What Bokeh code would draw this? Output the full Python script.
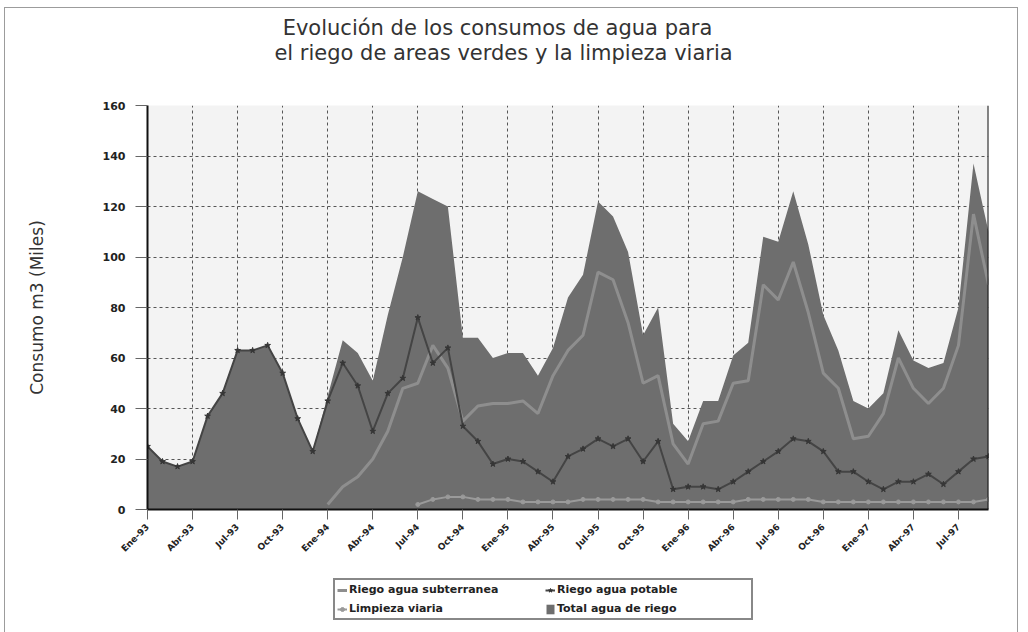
import math
from bokeh.plotting import figure
from bokeh.layouts import column
from bokeh.models import Range1d, FixedTicker, Label, Legend, LegendItem, Span
from bokeh.embed import file_html
from bokeh.resources import INLINE

NaN = float("nan")

# Monthly series, Ene-93 .. Sep-97 (index 0 = Ene-93)
tick_positions = [0, 3, 6, 9, 12, 15, 18, 21, 24, 27, 30, 33, 36, 39, 42, 45, 48, 51, 54]
tick_labels = ["Ene-93", "Abr-93", "Jul-93", "Oct-93", "Ene-94", "Abr-94", "Jul-94", "Oct-94",
               "Ene-95", "Abr-95", "Jul-95", "Oct-95", "Ene-96", "Abr-96", "Jul-96", "Oct-96",
               "Ene-97", "Abr-97", "Jul-97"]

total_riego = [25, 19, 17, 19, 37, 46, 63, 63, 65, 54, 36, 23,
               45, 67, 62, 51, 77, 100, 126, 123, 120, 68, 68, 60,
               62, 62, 53, 64, 84, 93, 122, 116, 102, 69, 80, 34,
               27, 43, 43, 61, 66, 108, 106, 126, 105, 77, 63, 43,
               40, 46, 71, 59, 56, 58, 80, 137, 110]

riego_potable = [25, 19, 17, 19, 37, 46, 63, 63, 65, 54, 36, 23,
                 43, 58, 49, 31, 46, 52, 76, 58, 64, 33, 27, 18,
                 20, 19, 15, 11, 21, 24, 28, 25, 28, 19, 27, 8,
                 9, 9, 8, 11, 15, 19, 23, 28, 27, 23, 15, 15,
                 11, 8, 11, 11, 14, 10, 15, 20, 21]

riego_subterranea = [NaN, NaN, NaN, NaN, NaN, NaN, NaN, NaN, NaN, NaN, NaN, NaN,
                     2, 9, 13, 20, 31, 48, 50, 65, 56, 35, 41, 42,
                     42, 43, 38, 53, 63, 69, 94, 91, 74, 50, 53, 26,
                     18, 34, 35, 50, 51, 89, 83, 98, 78, 54, 48, 28,
                     29, 38, 60, 48, 42, 48, 65, 117, 89]

limpieza_viaria = [NaN, NaN, NaN, NaN, NaN, NaN, NaN, NaN, NaN, NaN, NaN, NaN,
                   NaN, NaN, NaN, NaN, NaN, NaN, 2, 4, 5, 5, 4, 4,
                   4, 3, 3, 3, 3, 4, 4, 4, 4, 4, 3, 3,
                   3, 3, 3, 3, 4, 4, 4, 4, 4, 3, 3, 3,
                   3, 3, 3, 3, 3, 3, 3, 3, 4]

title_lines = ["Evolución de los consumos de agua para",
               "el riego de areas verdes y la limpieza viaria"]

x = list(range(len(total_riego)))

FONT = "DejaVu Sans"
OX, OY = 5, 8             # content origin on the page (inside the outer border)
W = 1012
BL, BR = 142, 29          # side borders shared by all three strips (frames align)
FX0, FX1 = OX + BL, OX + W - BR   # frame left/right in page pixels (147..988)

# ---------- title strip (page y 8..78) ----------
pt = figure(width=W, height=70, output_backend="svg", toolbar_location=None,
            x_range=Range1d(FX0, FX1), y_range=Range1d(78, OY),
            x_axis_location=None, y_axis_location=None,
            min_border_left=BL, min_border_right=BR, min_border_top=0, min_border_bottom=0,
            background_fill_color="white", border_fill_color="white")
pt.outline_line_color = None
pt.grid.visible = False
pt.add_layout(Label(x=497, y=27, text=title_lines[0], text_font=FONT, text_font_size="21px",
                    text_color="#333333", text_align="center", text_baseline="middle"))
pt.add_layout(Label(x=503, y=52, text=title_lines[1], text_font=FONT, text_font_size="21px",
                    text_color="#333333", text_align="center", text_baseline="middle"))

# ---------- main chart (page y 78..570) ----------
p = figure(width=W, height=492, output_backend="svg", toolbar_location=None,
           x_range=Range1d(0, 56), y_range=Range1d(0, 160),
           min_border_left=BL, min_border_right=BR, min_border_top=27, min_border_bottom=61,
           background_fill_color="#f3f3f3", border_fill_color="white")
p.outline_line_color = None

p.grid.grid_line_color = "#555555"
p.grid.grid_line_dash = "3 3"
p.grid.grid_line_width = 1

p.yaxis.ticker = FixedTicker(ticks=[0, 20, 40, 60, 80, 100, 120, 140, 160])
p.xaxis.ticker = FixedTicker(ticks=tick_positions)
p.xaxis.major_label_overrides = {t: l for t, l in zip(tick_positions, tick_labels)}
p.xaxis.major_label_orientation = math.pi / 4
for ax in (p.xaxis, p.yaxis):
    ax.axis_line_color = "#111111"
    ax.axis_line_width = 2
    ax.major_tick_line_color = "#666666"
    ax.major_tick_line_width = 1
    ax.major_tick_in = 0
    ax.minor_tick_line_color = None
    ax.major_label_text_font = FONT
    ax.major_label_text_font_style = "bold"
    ax.major_label_text_color = "#222222"
p.yaxis.major_tick_out = 12
p.yaxis.major_label_standoff = 10
p.yaxis.major_label_text_font_size = "11px"
p.xaxis.major_tick_out = 10
p.xaxis.major_label_standoff = 6
p.xaxis.major_label_text_font_size = "9px"
p.yaxis.axis_label = "Consumo m3 (Miles)"
p.yaxis.axis_label_text_font = FONT
p.yaxis.axis_label_text_font_size = "17px"
p.yaxis.axis_label_text_font_style = "normal"
p.yaxis.axis_label_text_color = "#333333"
p.yaxis.axis_label_standoff = 53

AREA_C, SUB_C, LIMP_C, POT_C = "#6e6e6e", "#8e8e8e", "#9a9a9a", "#444444"

p.varea(x=x, y1=0, y2=total_riego, fill_color=AREA_C)
p.line(x, riego_subterranea, line_color=SUB_C, line_width=3)
p.line(x, limpieza_viaria, line_color=LIMP_C, line_width=2)
p.scatter(x, limpieza_viaria, marker="circle", size=4, color=LIMP_C)
p.line(x, riego_potable, line_color=POT_C, line_width=2)
p.scatter(x, riego_potable, marker="star", size=6, color="#363636")

p.add_layout(Span(location=56, dimension="height", line_color="#111111", line_width=2))

# ---------- legend strip (page y 570..632) ----------
pl = figure(width=W, height=62, output_backend="svg", toolbar_location=None,
            x_range=Range1d(0, 1), y_range=Range1d(0, 1),
            x_axis_location=None, y_axis_location=None,
            min_border_left=BL, min_border_right=BR, min_border_top=0, min_border_bottom=0,
            background_fill_color="white", border_fill_color="white")
pl.outline_line_color = None
pl.grid.visible = False
# legend-only renderers, placed outside the visible range
l_sub = pl.line([-5, -4], [-5, -5], line_color=SUB_C, line_width=3)
l_pot = pl.line([-5, -4], [-5, -5], line_color=POT_C, line_width=2)
l_pot_m = pl.scatter([-5], [-5], marker="star", size=8, color="#363636")
l_limp = pl.line([-5, -4], [-5, -5], line_color=LIMP_C, line_width=2)
l_limp_m = pl.scatter([-5], [-5], marker="circle", size=6, color=LIMP_C)
l_area = pl.varea(x=[-5, -4], y1=[-5, -5], y2=[-4, -4], fill_color=AREA_C)

legend = Legend(items=[
    LegendItem(label="Riego agua subterranea", renderers=[l_sub]),
    LegendItem(label="Riego agua potable", renderers=[l_pot, l_pot_m]),
    LegendItem(label="Limpieza viaria", renderers=[l_limp, l_limp_m]),
    LegendItem(label="Total agua de riego", renderers=[l_area]),
], location=(333 - FX0, 12), orientation="horizontal", ncols=2)
legend.label_text_font = FONT
legend.label_text_font_size = "11px"
legend.label_text_font_style = "bold"
legend.label_text_color = "#222222"
legend.glyph_width = 10
legend.glyph_height = 12
legend.label_standoff = 2
legend.label_width = 192
legend.label_height = 15
legend.spacing = 4
legend.padding = 2
legend.margin = 0
legend.border_line_color = "#111111"
legend.border_line_width = 2
legend.background_fill_color = "white"
legend.background_fill_alpha = 1
pl.add_layout(legend)

layout = column(pt, p, pl, spacing=0, margin=(7, 0, 0, 4),
                styles={"border": "1px solid #9c9c9c"})
open("out.html", "w").write(file_html(layout, INLINE))
